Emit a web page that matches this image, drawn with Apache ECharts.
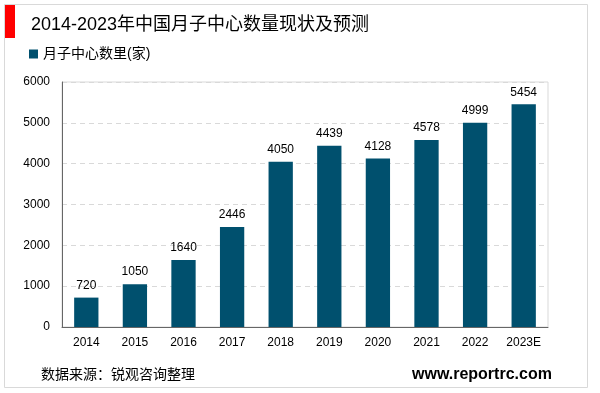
<!DOCTYPE html>
<html><head><meta charset="utf-8">
<script src="https://cdn.jsdelivr.net/npm/echarts@6/dist/echarts.min.js"></script>
<style>html,body{margin:0;padding:0;background:#fff}#c{width:600px;height:393px}</style>
</head><body><div id="c"></div>
<script>
const categories = ['2014','2015','2016','2017','2018','2019','2020','2021','2022','2023E'];
const values = [720,1050,1640,2446,4050,4439,4128,4578,4999,5454];
const seriesName = '月子中心数里(家)';
const titleText = '2014-2023年中国月子中心数量现状及预测';
const sourceText = '数据来源：锐观咨询整理';
const siteText = 'www.reportrc.com';

const chart = echarts.init(document.getElementById('c'));
const ff = 'Liberation Sans, Arial, Noto Sans CJK SC, sans-serif';
chart.setOption({
  animation:false,
  textStyle:{fontFamily:ff},
  title:{text:titleText,left:26,top:11,textStyle:{fontSize:18,fontWeight:'normal',color:'#000',fontFamily:ff}},
  legend:{left:24,top:42,itemWidth:9,itemHeight:9,icon:'rect',itemGap:6,
    textStyle:{fontSize:14,color:'#000',fontFamily:ff},data:[seriesName]},
  grid:{left:62,right:52,top:82,bottom:66,containLabel:false,show:true,borderColor:'#d9d9d9',borderWidth:1},
  xAxis:{type:'category',data:categories,
    axisLine:{lineStyle:{color:'#666',width:1}},axisTick:{show:false},
    axisLabel:{fontSize:12,color:'#000',margin:10}},
  yAxis:{type:'value',min:0,max:6000,interval:1000,
    axisLine:{show:true,lineStyle:{color:'#666'}},axisTick:{show:false},
    axisLabel:{fontSize:12,color:'#000',margin:12,formatter:function(v){return String(v);}},
    splitLine:{lineStyle:{color:'#d9d9d9',type:[5,4]}}},
  series:[{name:seriesName,type:'bar',data:values,barWidth:'50%',
    itemStyle:{color:'#00506e'},
    label:{show:true,position:'top',fontSize:12,color:'#000',distance:6}}],
  graphic:[
    {type:'rect',shape:{x:4.5,y:4.5,width:583,height:383},style:{fill:null,stroke:'#d9d9d9',lineWidth:1},silent:true},
    {type:'rect',shape:{x:5,y:5,width:10,height:33},style:{fill:'#ff0000'}},
    {type:'text',left:41,top:368,style:{text:sourceText,fontSize:14,fill:'#000',fontFamily:ff}},
    {type:'text',left:412,top:367,style:{text:siteText,fontSize:16,fontWeight:'bold',fill:'#000',fontFamily:ff}}
  ]
});
</script></body></html>
